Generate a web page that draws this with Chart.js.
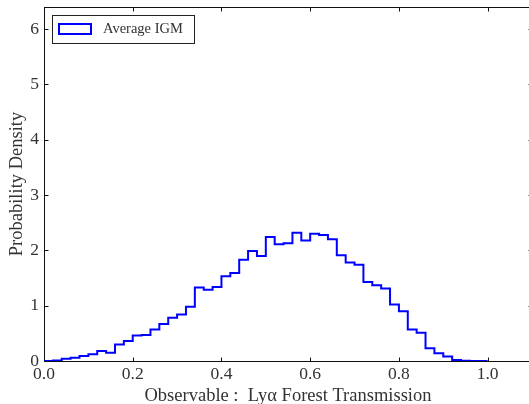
<!DOCTYPE html>
<html>
<head>
<meta charset="utf-8">
<script src="https://cdn.jsdelivr.net/npm/chart.js@4/dist/chart.umd.min.js"></script>
<style>
  html, body { margin: 0; padding: 0; background: #fff; overflow: hidden; }
  canvas { display: block; }
</style>
</head>
<body>
<canvas id="hist" width="536" height="404"></canvas>
<script>
// bin edges of the histogram (left edges + final right edge)
const binEdges = [0.00, 0.02, 0.04, 0.06, 0.08, 0.10, 0.12, 0.14, 0.16, 0.18,
                  0.20, 0.22, 0.24, 0.26, 0.28, 0.30, 0.32, 0.34, 0.36, 0.38,
                  0.40, 0.42, 0.44, 0.46, 0.48, 0.50, 0.52, 0.54, 0.56, 0.58,
                  0.60, 0.62, 0.64, 0.66, 0.68, 0.70, 0.72, 0.74, 0.76, 0.78,
                  0.80, 0.82, 0.84, 0.86, 0.88, 0.90, 0.92, 0.94, 0.96, 0.98, 1.00]
// probability density per bin
const density = [0.00, 0.01, 0.04, 0.06, 0.09, 0.12, 0.18, 0.15, 0.30, 0.36,
                 0.46, 0.47, 0.57, 0.67, 0.78, 0.84, 0.98, 1.33, 1.29, 1.34,
                 1.53, 1.59, 1.83, 1.99, 1.90, 2.24, 2.11, 2.13, 2.32, 2.18,
                 2.30, 2.28, 2.20, 1.91, 1.78, 1.74, 1.43, 1.37, 1.31, 1.02,
                 0.90, 0.57, 0.51, 0.23, 0.14, 0.08, 0.02, 0.005, 0.00, 0.00]
const xTicks = [0.0, 0.2, 0.4, 0.6, 0.8, 1.0]
const yTicks = [0, 1, 2, 3, 4, 5, 6]
const seriesName = 'Average IGM'

const FONT = 'Liberation Serif'
const TXT = '#333'

// step points: value of bin i starts at its left edge, last edge drops to 0
let points = binEdges.map((x, i) => ({ x: x, y: i < density.length ? density[i] : 0 }))

// frame with inward ticks (matplotlib classic look)
const frame = {
  id: 'frame',
  beforeDatasetsDraw(chart) {
    const { ctx, chartArea: a, scales } = chart
    const L = Math.round(a.left) + 0.5, R = Math.round(a.right) + 0.5
    const T = Math.round(a.top) + 0.5, B = Math.round(a.bottom) + 0.5
    ctx.save()
    ctx.strokeStyle = '#111'
    ctx.lineWidth = 1
    ctx.strokeRect(L, T, R - L, B - T)
    ctx.beginPath()
    xTicks.forEach(v => {
      const px = Math.round(scales.x.getPixelForValue(v)) + 0.5
      ctx.moveTo(px, B); ctx.lineTo(px, B - 4)
      ctx.moveTo(px, T); ctx.lineTo(px, T + 4)
    })
    yTicks.forEach(v => {
      const py = Math.round(scales.y.getPixelForValue(v)) + 0.5
      ctx.moveTo(L, py); ctx.lineTo(L + 4, py)
      ctx.moveTo(R, py); ctx.lineTo(R - 4, py)
    })
    ctx.stroke()
    ctx.restore()
  }
}

// legend box in the upper left corner of the plot
const boxLegend = {
  id: 'boxLegend',
  afterDraw(chart) {
    const { ctx, chartArea: a } = chart
    const ds = chart.data.datasets[0]
    const x0 = Math.round(a.left) + 8, y0 = Math.round(a.top) + 8
    ctx.save()
    ctx.font = '14.5px "' + FONT + '"'
    const w = 142, h = 28
    ctx.fillStyle = '#fff'
    ctx.fillRect(x0, y0, w, h)
    ctx.strokeStyle = '#222'
    ctx.lineWidth = 1
    ctx.strokeRect(x0 + 0.5, y0 + 0.5, w, h)
    ctx.strokeStyle = ds.borderColor
    ctx.lineWidth = 2
    ctx.strokeRect(x0 + 7, y0 + 9, 32, 10)
    ctx.fillStyle = TXT
    ctx.textBaseline = 'middle'
    ctx.fillText(ds.label, x0 + 51, y0 + 14.5)
    ctx.restore()
  }
}

new Chart(document.getElementById('hist'), {
  type: 'line',
  data: {
    datasets: [{
      label: seriesName,
      data: points,
      borderColor: '#0000ff',
      borderWidth: 2,
      stepped: true,
      fill: false,
      pointRadius: 0,
      borderJoinStyle: 'miter',
      tension: 0
    }]
  },
  options: {
    responsive: false,
    animation: false,
    events: [],
    layout: { padding: { top: 7, right: 4, left: 0, bottom: 0 } },
    plugins: { legend: { display: false }, tooltip: { enabled: false } },
    scales: {
      x: {
        type: 'linear',
        min: 0,
        max: 1.1,
        grid: { display: false, drawTicks: false },
        border: { display: false },
        afterBuildTicks: s => { s.ticks = xTicks.map(v => ({ value: v })) },
        afterFit: s => { s.height = 43; s.paddingLeft = 0; s.paddingRight = 0 },
        ticks: {
          padding: 3,
          color: TXT,
          font: { family: FONT, size: 17.5 },
          callback: v => v.toFixed(1)
        },
        title: {
          display: true,
          text: 'Observable :  Lyα Forest Transmission',
          color: TXT,
          font: { family: FONT, size: 18.5 },
          padding: { top: -3, bottom: -3 }
        }
      },
      y: {
        min: 0,
        max: 6.4,
        grid: { display: false, drawTicks: false },
        border: { display: false },
        afterBuildTicks: s => { s.ticks = yTicks.map(v => ({ value: v })) },
        afterFit: s => { s.width = 44; s.paddingTop = 0; s.paddingBottom = 0 },
        ticks: {
          padding: 5,
          color: TXT,
          font: { family: FONT, size: 17.5 }
        },
        title: {
          display: true,
          text: 'Probability Density',
          color: TXT,
          font: { family: FONT, size: 18.5 },
          padding: { top: 6, bottom: 0 }
        }
      }
    }
  },
  plugins: [frame, boxLegend]
})
</script>
</body>
</html>
